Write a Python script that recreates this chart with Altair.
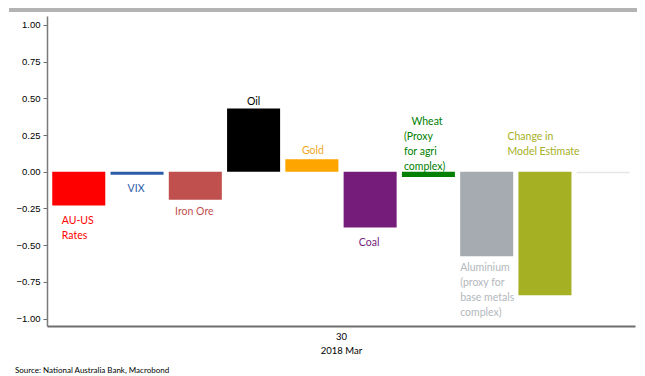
import altair as alt
import pandas as pd

categories = ["AU-US Rates", "VIX", "Iron Ore", "Oil", "Gold", "Coal", "Wheat",
              "Aluminium", "Change in Model Estimate", "Other"]
values = [-0.23, -0.02, -0.19, 0.43, 0.085, -0.38, -0.035, -0.575, -0.84, -0.01]
bar_colors = ["#ff0000", "#2a5ca8", "#c0504d", "#000000", "#ffa500", "#751c7b",
              "#008000", "#a5abb1", "#a5b023", "#e6e6e6"]
label_texts = [["AU-US", "Rates"], ["VIX"], ["Iron Ore"], ["Oil"], ["Gold"], ["Coal"],
               ["Wheat", "(Proxy", "for agri", "complex)"],
               ["Aluminium", "(proxy for", "base metals", "complex)"],
               ["Change in", "Model Estimate"], [""]]
label_colors = ["#ff0000", "#2a5ca8", "#c0504d", "#000000", "#f2a81d", "#751c7b",
                "#008000", "#b3b8bd", "#a5b023", "#e6e6e6"]
y_ticks = [-1.0, -0.75, -0.5, -0.25, 0.0, 0.25, 0.5, 0.75, 1.0]
x_title = ["30", "2018 Mar"]
source = "Source: National Australia Bank, Macrobond"

LH = 15
# label placement (align, dx, dy from bar end, first-line indent), style only
label_style = {
    "AU-US Rates": ("left", -17, 18, 0),
    "VIX": ("center", -1, 17, 0),
    "Iron Ore": ("center", -1, 15.5, 0),
    "Oil": ("center", 0, -4, 0),
    "Gold": ("center", 1, -5.5, 0),
    "Coal": ("center", -1, 18.5, 0),
    "Wheat": ("left", -24.5, -52, 7.5),
    "Aluminium": ("left", -26.5, 15, 0),
    "Change in Model Estimate": ("left", -37.5, -155, 0),
}

df = pd.DataFrame({
    "cat": categories,
    "val": values,
    "color": bar_colors,
    "first": [t[0] for t in label_texts],
    "rest": ["\n".join(t[1:]) for t in label_texts],
})

x_enc = alt.X("cat:N", sort=categories,
              scale=alt.Scale(paddingInner=0.09, paddingOuter=0.09),
              axis=alt.Axis(labels=False, ticks=False, title=x_title,
                            domainColor="#6e6e6e", domainWidth=2,
                            titleFont="Lato", titleFontSize=9.5,
                            titleFontWeight="normal", titleColor="#000000",
                            titlePadding=5, titleLineHeight=14))
y_enc = alt.Y("val:Q",
              scale=alt.Scale(domain=[-1.05, 1.06], nice=False, zero=False),
              axis=alt.Axis(values=y_ticks, format=".2f", grid=False, title=None,
                            labelFont="Liberation Sans", labelFontSize=9.5,
                            labelColor="#000000", tickSize=4, tickColor="#6e6e6e",
                            domainColor="#7a7a7a", domainWidth=1.5, labelPadding=3,
                            labelOverlap=False))

bars = alt.Chart(df).mark_bar().encode(
    x=x_enc, y=y_enc, y2=alt.datum(0),
    color=alt.Color("color:N", scale=None),
)

layers = [bars]
for i, c in enumerate(categories):
    if c not in label_style:
        continue
    align, dx, dy, indent = label_style[c]
    common = dict(align=align, baseline="alphabetic", lineBreak="\n",
                  lineHeight=LH, font="Lato", fontSize=10.5, color=label_colors[i])
    base = alt.Chart(df).transform_filter(alt.datum.cat == c)
    layers.append(base.mark_text(dx=dx + indent, dy=dy, **common)
                  .encode(x=x_enc, y=y_enc, text="first:N"))
    if len(label_texts[i]) > 1:
        layers.append(base.mark_text(dx=dx, dy=dy + LH, **common)
                      .encode(x=x_enc, y=y_enc, text="rest:N"))

banner = alt.Chart(pd.DataFrame({"a": [0]})).mark_rect(color="#b3b3b3").encode(
    x=alt.value(-38), x2=alt.value(600), y=alt.value(-8), y2=alt.value(-4)
)
src = alt.Chart(pd.DataFrame({"t": [source]})).mark_text(
    align="left", baseline="middle", font="Lato", fontSize=8, color="#000000"
).encode(x=alt.value(-32), y=alt.value(355), text="t:N")

chart = alt.layer(*layers, banner, src).properties(
    width=588, height=310,
    autosize=alt.AutoSizeParams(type="none"),
    padding={"left": 39, "top": 8, "right": 2, "bottom": 50},
).configure_view(stroke=None)

chart.save("out.html", embed_options={"renderer": "svg", "actions": False})
